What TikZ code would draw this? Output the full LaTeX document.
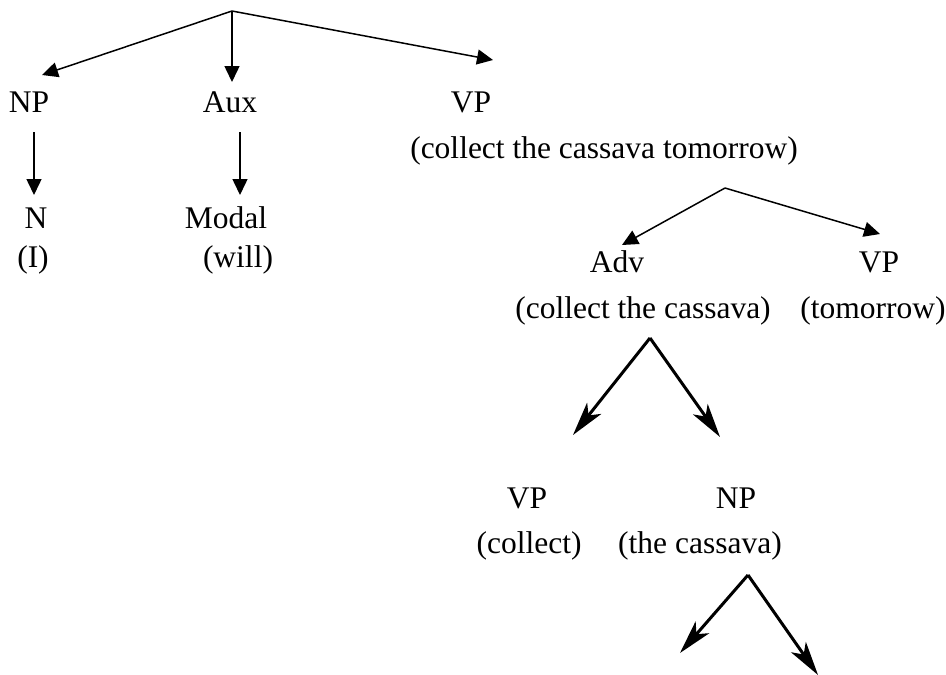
\documentclass[tikz,border=0pt]{standalone}
\usepackage{fontspec}
\setmainfont{Liberation Serif}
\usetikzlibrary{arrows.meta}

\tikzset{
  word/.style={anchor=base,inner sep=0pt,font=\fontsize{31.5}{38}\selectfont},
  thin/.style={line width=1.5pt,-{Triangle[length=16pt,width=15pt]}},
  thick/.style={line width=3pt,-{Stealth[length=34pt,width=18pt,inset=9pt]}}
}

\begin{document}
\begin{tikzpicture}[x=1pt,y=-1pt]
  \useasboundingbox (0,0) rectangle (946,675);
  % top level
  \coordinate (s) at (232,11);
  \coordinate (np-t) at (42,75);
  \coordinate (aux-t) at (232,82);
  \coordinate (vp-t) at (493,60);
  \node[word] (np) at (29,112) {NP};
  \node[word] (aux) at (230,112) {Aux};
  \node[word] (vp) at (471,112) {VP};
  \node[word] (vp-w) at (604,158) {(collect the cassava tomorrow)};
  \coordinate (np-b) at (34,132);
  \coordinate (n-t) at (34,195);
  \coordinate (aux-b) at (240,132);
  \coordinate (mod-t) at (240,195);
  \node[word] (n) at (36,228) {N};
  \node[word] (n-w) at (33,267) {(I)};
  \node[word] (mod) at (226,228) {Modal};
  \node[word] (mod-w) at (238,267) {(will)};
  % VP branch
  \coordinate (vp-s) at (725,188);
  \coordinate (adv-t) at (622,245);
  \coordinate (vp2-t) at (880,234);
  \node[word] (adv) at (617,272) {Adv};
  \node[word] (vp2) at (879,272) {VP};
  \node[word] (adv-w) at (643,318) {(collect the cassava)};
  \node[word] (vp2-w) at (873,318) {(tomorrow)};
  \coordinate (adv-s) at (650,338);
  \coordinate (vp3-t) at (573,435);
  \coordinate (np2-t) at (720,437);
  \node[word] (vp3) at (527,508) {VP};
  \node[word] (vp3-w) at (529,553) {(collect)};
  \node[word] (np2) at (736,508) {NP};
  \node[word] (np2-w) at (700,553) {(the cassava)};
  \coordinate (np2-s) at (748,575);
  \coordinate (l-t) at (680,653);
  \coordinate (r-t) at (818,675);

  \path[thin]
    (s) edge (np-t)
    (s) edge (aux-t)
    (s) edge (vp-t)
    (np-b) edge (n-t)
    (aux-b) edge (mod-t)
    (vp-s) edge (adv-t)
    (vp-s) edge (vp2-t)
    ;
  \path[thick]
    (adv-s) edge (vp3-t)
    (adv-s) edge (np2-t)
    (np2-s) edge (l-t)
    (np2-s) edge (r-t)
    ;
\end{tikzpicture}
\end{document}
